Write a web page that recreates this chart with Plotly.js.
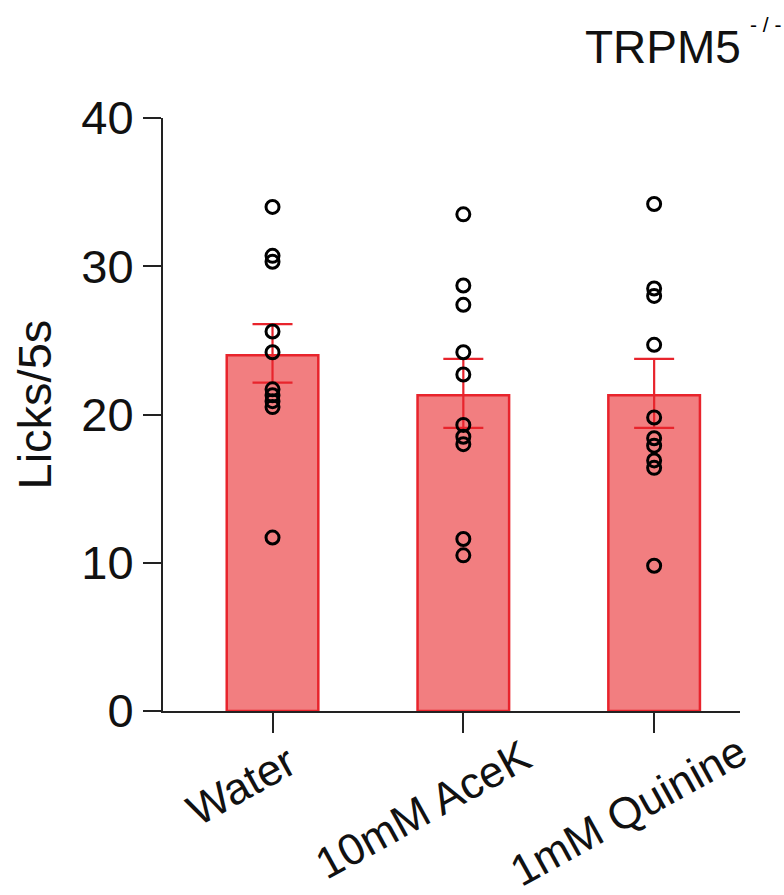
<!DOCTYPE html>
<html>
<head>
<meta charset="utf-8">
<script src="https://cdn.plot.ly/plotly-3.0.1.min.js"></script>
<style>html,body{margin:0;padding:0;background:#fff;}#chart{width:784px;height:895px;}</style>
</head>
<body>
<div id="chart"></div>
<script>
const categories = ["Water", "10mM AceK", "1mM Quinine"];
const means = [24.0, 21.3, 21.3];
const errPlus = [2.1, 2.45, 2.45];
const errMinus = [1.85, 2.2, 2.2];
const waterPoints = [34.0, 30.7, 30.3, 25.6, 24.2, 21.7, 21.3, 20.9, 20.5, 11.7];
const acekPoints = [33.5, 28.7, 27.4, 24.2, 22.7, 19.3, 18.5, 18.0, 11.6, 10.5];
const quininePoints = [34.2, 28.5, 28.0, 24.7, 19.8, 18.4, 17.9, 16.9, 16.4, 9.8];
const yTicks = [0, 10, 20, 30, 40];
const yTitle = "Licks/5s";
const mainTitle = "TRPM5";
const titleSup = "- / -";

const pointSets = [waterPoints, acekPoints, quininePoints];
const px = [], py = [];
pointSets.forEach((arr, i) => arr.forEach(v => { px.push(categories[i]); py.push(v); }));

const font = "Liberation Sans, Arial, sans-serif";

// label placement (pixel shifts of each rotated category label's centre from its tick)
const labelShiftX = [-32, -41, -26];
const labelShiftY = [-74, -98, -99];

const traces = [
  {
    type: "bar",
    x: categories,
    y: means,
    width: 0.48,
    marker: { color: "#F27E80", line: { color: "#E8242C", width: 2.5 } },
    error_y: { type: "data", symmetric: false, array: errPlus, arrayminus: errMinus,
               color: "#E8242C", thickness: 2.2, width: 20 },
    hoverinfo: "skip"
  },
  {
    type: "scatter",
    mode: "markers",
    x: px,
    y: py,
    marker: { symbol: "circle-open", size: 13, color: "#000", line: { color: "#000", width: 3 } },
    hoverinfo: "skip"
  }
];

const annotations = [
  {
    xref: "paper", yref: "paper",
    x: -0.2227, y: 0.516,
    xanchor: "center", yanchor: "middle",
    textangle: -90,
    showarrow: false,
    text: yTitle,
    font: { size: 47, family: font, color: "#111" }
  },
  {
    xref: "paper", yref: "paper",
    x: 1.005, y: 1.119,
    xanchor: "right", yanchor: "middle",
    showarrow: false,
    text: mainTitle,
    font: { size: 46, family: font, color: "#111" }
  },
  {
    xref: "paper", yref: "paper",
    x: 1.0457, y: 1.157,
    xanchor: "center", yanchor: "middle",
    showarrow: false,
    text: titleSup,
    font: { size: 21, family: font, color: "#000" }
  }
];
categories.forEach((c, i) => {
  annotations.push({
    xref: "x", yref: "y",
    x: c, y: 0,
    xshift: labelShiftX[i], yshift: labelShiftY[i],
    xanchor: "center", yanchor: "middle",
    textangle: -29,
    showarrow: false,
    text: c,
    font: { size: 44, family: font, color: "#111" }
  });
});

const layout = {
  width: 784,
  height: 895,
  margin: { l: 163, r: 44, t: 118, b: 184 },
  paper_bgcolor: "#fff",
  plot_bgcolor: "#fff",
  showlegend: false,
  font: { family: font, color: "#111" },
  xaxis: {
    type: "category",
    range: [-0.574, 2.45],
    showgrid: false,
    zeroline: false,
    showline: true,
    linecolor: "#222",
    linewidth: 2,
    ticks: "outside",
    ticklen: 20,
    tickwidth: 2,
    tickcolor: "#222",
    showticklabels: false,
    automargin: false
  },
  yaxis: {
    range: [0, 40],
    tickvals: yTicks,
    ticktext: yTicks.map(String),
    showgrid: false,
    zeroline: false,
    showline: true,
    linecolor: "#222",
    linewidth: 2,
    ticks: "outside",
    ticklen: 18,
    tickwidth: 2,
    tickcolor: "#222",
    tickfont: { size: 47, family: font, color: "#111" },
    automargin: false
  },
  annotations: annotations
};

Plotly.newPlot("chart", traces, layout, { displayModeBar: false, staticPlot: true });
</script>
</body>
</html>
